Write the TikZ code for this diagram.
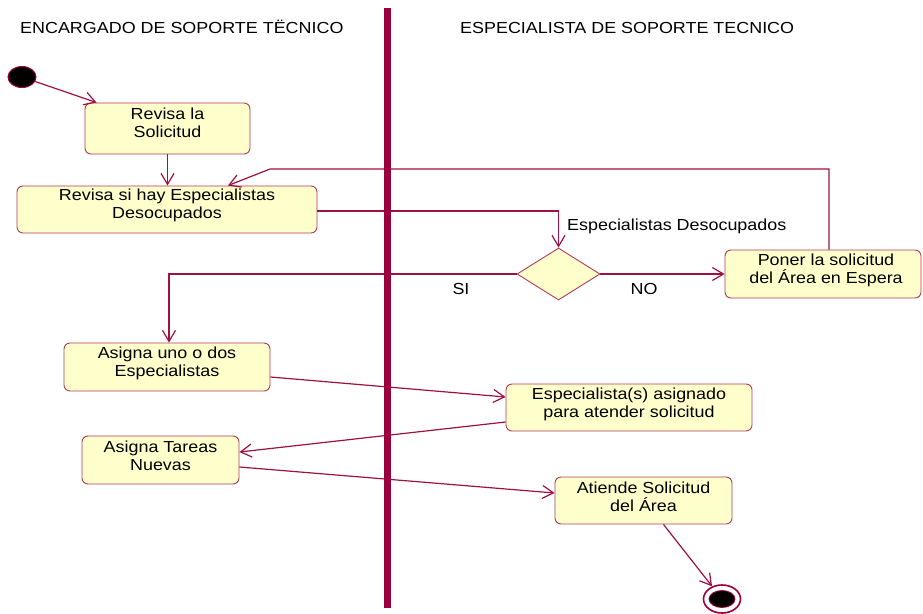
\documentclass[tikz,border=0pt]{standalone}
\usepackage{fontspec}
\setmainfont[FakeStretch=1.12]{Liberation Sans}
\usetikzlibrary{arrows.meta,shapes.geometric}

\definecolor{lanecol}{HTML}{99003D}
\definecolor{flowcol}{HTML}{9E0F42}
\definecolor{boxline}{HTML}{B03A5E}
\definecolor{boxfill}{HTML}{FFFFCC}

\tikzset{
  txt/.style={font=\fontsize{16}{18}\selectfont, inner sep=0pt, text=black},
  actbox/.style={draw=boxline, fill=boxfill, rounded corners=6pt, line width=0.9pt, inner sep=0pt},
  boxtxt/.style={txt, align=center},
  decision/.style={diamond, draw=boxline, fill=boxfill, line width=0.9pt, inner sep=0pt},
  flow/.style={draw=flowcol, line width=1.2pt, -{Straight Barb[length=11pt,width=13pt,line width=1.2pt]}},
}

\begin{document}
\begin{tikzpicture}[x=1pt,y=-1pt]
\useasboundingbox (0,0) rectangle (923,613);

% lane headers
\node[txt, anchor=base west] (h1) at (20,33.3) {ENCARGADO DE SOPORTE TËCNICO};
\node[txt, anchor=base west] (h2) at (460,33.3) {ESPECIALISTA DE SOPORTE TECNICO};

% initial and final states
\node[ellipse, draw=lanecol, fill=black, line width=1pt, minimum width=28pt, minimum height=21pt, inner sep=0pt] (start) at (22,77) {};
\node[ellipse, draw=lanecol, fill=white, line width=1.6pt, minimum width=37pt, minimum height=28pt, inner sep=0pt] (end) at (722,599) {};
\node[ellipse, draw=lanecol, fill=black, line width=0.8pt, minimum width=26pt, minimum height=17pt, inner sep=0pt] (endin) at (end.center) {};

% activities
\node[actbox, minimum width=165pt, minimum height=51pt] (rev) at (167.5,128.5) {};
\node[boxtxt] (revt) at ([yshift=-20.5pt]rev.north) {Revisa la\\Solicitud};

\node[actbox, minimum width=300pt, minimum height=47pt] (hay) at (167,209.5) {};
\node[boxtxt] (hayt) at ([yshift=-20pt]hay.north) {Revisa si hay Especialistas\\Desocupados};

\node[decision, minimum width=83pt, minimum height=52pt] (dec) at (558.5,274) {};
\node[txt, anchor=base west] (decl) at (567,230.5) {Especialistas Desocupados};

\node[actbox, minimum width=196pt, minimum height=48pt] (poner) at (823,274) {};
\node[boxtxt] (ponert) at ([xshift=3pt,yshift=-20.5pt]poner.north) {Poner la solicitud\\del Área en Espera};

\node[actbox, minimum width=206pt, minimum height=48pt] (asig) at (167,367) {};
\node[boxtxt] (asigt) at ([yshift=-20.5pt]asig.north) {Asigna uno o dos\\Especialistas};

\node[actbox, minimum width=246pt, minimum height=47pt] (esp) at (629,407.5) {};
\node[boxtxt] (espt) at ([yshift=-20.5pt]esp.north) {Especialista(s) asignado\\para atender solicitud};

\node[actbox, minimum width=157pt, minimum height=48pt] (tareas) at (160.5,460) {};
\node[boxtxt] (tareast) at ([yshift=-20.5pt]tareas.north) {Asigna Tareas\\Nuevas};

\node[actbox, minimum width=177pt, minimum height=47pt] (atiende) at (643.5,500.5) {};
\node[boxtxt] (atiendet) at ([yshift=-20.5pt]atiende.north) {Atiende Solicitud\\del Área};

% guard labels
\node[txt, anchor=base] (si) at (461,294.5) {SI};
\node[txt, anchor=base] (no) at (644,294.5) {NO};

% transitions
\coordinate (loop) at (270,169);
\draw[flow] (start) -- ([xshift=12pt]rev.north west);
\draw[flow] (rev.south) -- (rev.south |- hay.north);
\draw[flow] (hay.east |- 0,211) -| (dec.north);
\draw[flow] (dec.west) -| ([xshift=2pt]asig.north);
\draw[flow] (dec.east) -- (dec.east -| poner.west);
\draw[flow] ([xshift=6pt]poner.north) |- (loop) -- ([xshift=61pt]hay.north);
\draw[flow] ([yshift=-10pt]asig.east) -- ([yshift=10.5pt]esp.west);
\draw[flow] ([yshift=-14.5pt]esp.west) -- ([yshift=8pt]tareas.east);
\draw[flow] ([yshift=-7pt]tareas.east) -- ([yshift=7.5pt]atiende.west);
\draw[flow] ([xshift=20pt]atiende.south) -- (end);

% swimlane divider
\draw[lanecol, line width=7pt] (387.5,8) -- (387.5,608);
\end{tikzpicture}
\end{document}
